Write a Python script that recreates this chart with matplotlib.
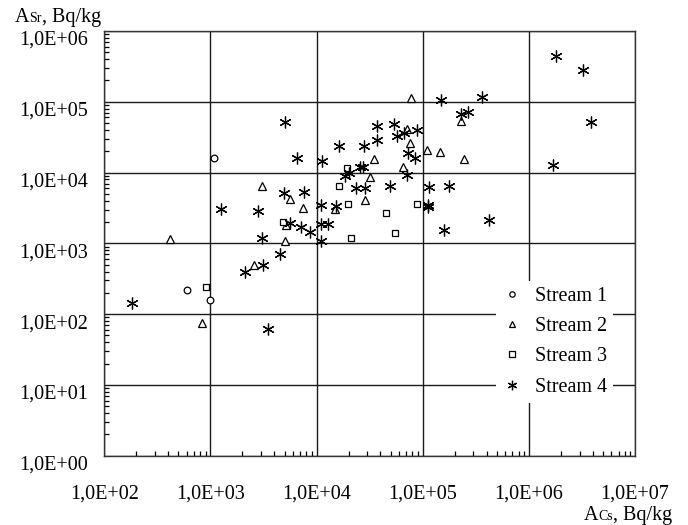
import matplotlib
matplotlib.use("Agg")
import matplotlib.pyplot as plt
import matplotlib.transforms as mtransforms
from matplotlib.ticker import LogLocator, NullFormatter, FixedLocator

plt.rcParams['font.family'] = ['Liberation Serif', 'DejaVu Serif']

# ---- data (A_Cs, A_Sr in Bq/kg) ----
s1_cs = [600, 989, 1070]
s1_sr = [216, 160, 16000]

s2_cs = [417, 824, 2560, 3090, 5600, 7380, 4990, 5100, 14800, 28500, 32000, 34700,
         65300, 71600, 75500, 77100, 109000, 144000, 231000, 243000]
s2_sr = [1160, 76, 497, 6500, 4270, 3160, 1090, 1800, 3050, 4120, 8700, 15400,
         11800, 41700, 25900, 111600, 21100, 19400, 54000, 15400]

s3_cs = [918, 4780, 16200, 19300, 19800, 21100, 45100, 55200, 88500]
s3_sr = [240, 2000, 6360, 11500, 3620, 1200, 2680, 1380, 3620]

s4_cs = [183, 1265, 2120, 2790, 3030, 3140, 3520, 4570, 4920, 4990, 5560, 6490,
         7180, 7550, 8730, 11000, 11000, 12800, 11000, 11200, 15200, 16100, 18500,
         20300, 25600, 27500, 23400, 28500, 27900, 37200, 37200, 48900, 53300,
         57300, 66200, 70800, 73300, 85300, 89100, 112000, 112000, 115000, 148000,
         160000, 177000, 229000, 267000, 362000, 422000, 1700000, 1790000,
         3270000, 3890000]
s4_sr = [145, 3080, 395, 2890, 1175, 497, 62, 716, 5220, 52300, 1940, 16000,
         1700, 5400, 1430, 3430, 1890, 1890, 1090, 14800, 3400, 24000, 9070,
         10000, 11900, 11900, 6030, 6030, 24000, 45100, 28900, 6500, 49000,
         33200, 36500, 9190, 18800, 16000, 39900, 3510, 3260, 6230, 105700,
         1520, 6500, 66500, 72300, 115000, 2110, 12800, 441000,
         279000, 52300]

series_names = ['Stream 1', 'Stream 2', 'Stream 3', 'Stream 4']
x_ticklabels = ['1,0E+02', '1,0E+03', '1,0E+04', '1,0E+05', '1,0E+06', '1,0E+07']
y_ticklabels = ['1,0E+00', '1,0E+01', '1,0E+02', '1,0E+03', '1,0E+04', '1,0E+05', '1,0E+06']

W, H = 688, 525
fig = plt.figure(figsize=(W / 100, H / 100), dpi=100)
ax = fig.add_axes([104.3 / W, 1 - 455.7 / H, (635 - 104.3) / W, (455.7 - 31) / H])

ax.set_xscale('log')
ax.set_yscale('log')
ax.set_xlim(1e2, 1e7)
ax.set_ylim(1e0, 1e6)

star = (6, 2, 0)
kw = dict(linestyle='none', markerfacecolor='white', markeredgecolor='black', markeredgewidth=0.9)
ax.plot(s1_cs, s1_sr, marker='o', markersize=4.8, label=series_names[0], **kw)
ax.plot(s2_cs, s2_sr, marker='^', markersize=6.2, label=series_names[1], **kw)
ax.plot(s3_cs, s3_sr, marker='s', markersize=5, label=series_names[2], **kw)
ax.plot(s4_cs, s4_sr, marker=star, markersize=8.5, label=series_names[3],
        linestyle='none', color='black', markeredgewidth=0.9)

xt = [1e2, 1e3, 1e4, 1e5, 1e6, 1e7]
yt = [1e0, 1e1, 1e2, 1e3, 1e4, 1e5, 1e6]
ax.xaxis.set_major_locator(FixedLocator(xt))
ax.yaxis.set_major_locator(FixedLocator(yt))
ax.set_xticklabels(x_ticklabels)
ax.set_yticklabels(y_ticklabels)
ax.xaxis.set_minor_locator(LogLocator(base=10, subs=range(2, 10), numticks=20))
ax.yaxis.set_minor_locator(LogLocator(base=10, subs=range(2, 10), numticks=20))
ax.xaxis.set_minor_formatter(NullFormatter())
ax.yaxis.set_minor_formatter(NullFormatter())

ax.tick_params(which='both', direction='in', top=False, right=False, colors='black')
ax.tick_params(which='major', length=0, labelsize=14.5)
ax.tick_params(axis='x', which='major', pad=21)
ax.tick_params(axis='y', which='major', pad=12)
ax.tick_params(which='minor', length=3.5, width=0.9)

# shift y tick labels slightly downward
offset = mtransforms.ScaledTranslation(0, -7 / 100, fig.dpi_scale_trans)
for lab in ax.get_yticklabels():
    lab.set_transform(lab.get_transform() + offset)

ax.grid(True, which='major', color='#1a1a1a', linewidth=1.0)
ax.set_axisbelow(True)
for sp in ax.spines.values():
    sp.set_color('#333333')
    sp.set_linewidth(1.0)

leg = ax.legend(loc='lower right', bbox_to_anchor=(0.958, 0.125), frameon=True,
                fontsize=14.5, markerscale=0.8, handlelength=1.0, handletextpad=0.6,
                labelspacing=0.55, borderpad=0.3, borderaxespad=0)
leg.get_frame().set_edgecolor('none')
leg.get_frame().set_facecolor('white')
leg.get_frame().set_alpha(1)

# axis labels built from pieces: big "A", small element symbol on the baseline, unit
renderer = fig.canvas.get_renderer()

# y-axis label (top left), left-aligned
yb = 1 - 22 / H
t1 = fig.text(15 / W, yb, 'A', fontsize=14.5, ha='left', va='baseline')
x1 = t1.get_window_extent(renderer).x1
t2 = fig.text(x1 / W, yb, 'Sr', fontsize=10, ha='left', va='baseline')
x2 = t2.get_window_extent(renderer).x1
fig.text(x2 / W, yb, ', Bq/kg', fontsize=14.5, ha='left', va='baseline')

# x-axis label (bottom right), right-aligned
xb = 1 - 520 / H
u3 = fig.text(672 / W, xb, ', Bq/kg', fontsize=14.5, ha='right', va='baseline')
r3 = u3.get_window_extent(renderer).x0
u2 = fig.text(r3 / W, xb, 'Cs', fontsize=10, ha='right', va='baseline')
r2 = u2.get_window_extent(renderer).x0
fig.text(r2 / W, xb, 'A', fontsize=14.5, ha='right', va='baseline')

fig.savefig('out.png', dpi=100)
